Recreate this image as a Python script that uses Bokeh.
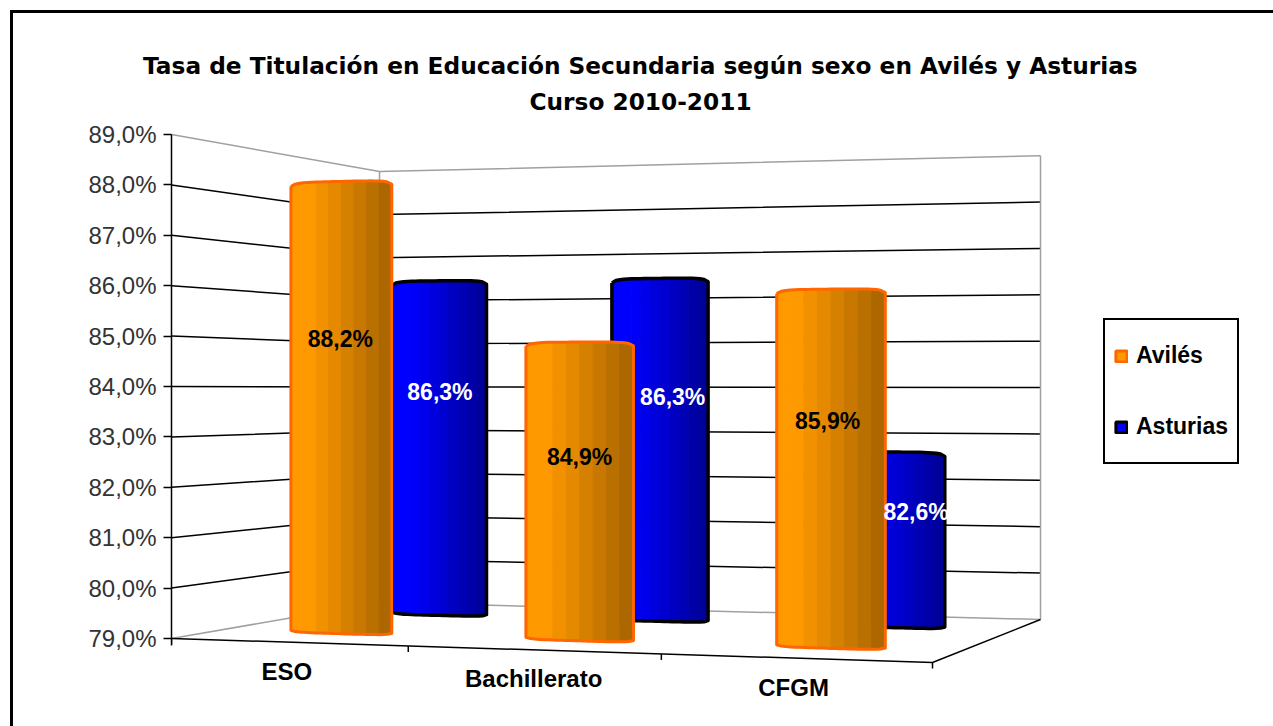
from bokeh.plotting import figure
from bokeh.embed import file_html
from bokeh.resources import INLINE
from bokeh.models import Range1d, LinearAxis, FixedTicker, Legend, LegendItem, Title
from bokeh.core.properties import value

# ---- data
categories = ["ESO", "Bachillerato", "CFGM"]
series_names = ["Avilés", "Asturias"]
aviles = [88.2, 84.9, 85.9]
asturias = [86.3, 86.3, 82.6]
aviles_labels = ["88,2%", "84,9%", "85,9%"]
asturias_labels = ["86,3%", "86,3%", "82,6%"]
y_ticks = [79, 80, 81, 82, 83, 84, 85, 86, 87, 88, 89]
y_tick_labels = ["79,0%", "80,0%", "81,0%", "82,0%", "83,0%", "84,0%", "85,0%", "86,0%", "87,0%", "88,0%", "89,0%"]
title_lines = ["Tasa de Titulación en Educación Secundaria según sexo en Avilés y Asturias", "Curso 2010-2011"]

# ---- perspective projection of the 3-D box (t: along categories 0..1, d: depth 0..1)
X00, Y00, X10, Y10, X11, Y11, X01, Y01 = 171, 638, 932, 662, 1040, 619, 379, 602
dx1, dx2, sx = X10 - X11, X01 - X11, X00 - X10 + X11 - X01
dy1, dy2, sy = Y10 - Y11, Y01 - Y11, Y00 - Y10 + Y11 - Y01
det = dx1 * dy2 - dx2 * dy1
G = (sx * dy2 - dx2 * sy) / det
H = (dx1 * sy - sx * dy1) / det
K0, KT, KD = 50.4, -0.65, -0.1
VMIN, VMAX = 79, 89


def proj(t, d, v=VMIN):
    w = 1 + G * t + H * d
    x = ((X10 - X00 + G * X10) * t + (X01 - X00 + H * X01) * d + X00) / w
    y = ((Y10 - Y00 + G * Y10) * t + (Y01 - Y00 + H * Y01) * d + Y00) / w
    return x, y - (v - VMIN) * (K0 + KT * t + KD * d) / w


def poly(pts, **kw):
    p.line([q[0] for q in pts], [q[1] for q in pts], **kw)


CX, CY = 13, 13          # where the canvas starts in the picture
FRAME_TOP = 118
W, H_PAGE = 1263, 716
p = figure(width=W, height=H_PAGE, output_backend="svg", toolbar_location=None, title=None,
           x_range=Range1d(171, CX + W), y_range=Range1d(CY + H_PAGE, FRAME_TOP),
           min_border_left=171 - CX, min_border_right=0, min_border_top=FRAME_TOP - CY, min_border_bottom=0,
           x_axis_type=None, y_axis_type=None, outline_line_color=None,
           background_fill_color="white", border_fill_color="white",
           margin=(10, 0, 0, 10),
           styles={"border-left": "3px solid black", "border-top": "3px solid black"})
p.grid.visible = False

# real percentage axis, aligned with the left edge of the box
p.extra_y_ranges["pct"] = Range1d(VMIN - (CY + H_PAGE - Y00) / K0, VMIN + (Y00 - FRAME_TOP) / K0)
axis = LinearAxis(y_range_name="pct", ticker=FixedTicker(ticks=y_ticks),
                  major_label_overrides={t: s for t, s in zip(y_ticks, y_tick_labels)},
                  bounds=(78.87, VMAX), major_tick_out=8, major_tick_in=0, minor_tick_out=0, minor_tick_in=0,
                  major_tick_line_color="black", major_tick_line_width=1.5,
                  axis_line_color="black", axis_line_width=1.5, major_label_standoff=7,
                  major_label_text_font="Liberation Sans", major_label_text_font_size="24px",
                  major_label_text_color="#333333")
p.add_layout(axis, "left")

# walls and gridlines
GRAY, GW, LW = "#a0a0a0", 1.5, 1.5
for v in y_ticks:
    col = GRAY if v in (VMIN, VMAX) else "black"
    poly([proj(0, 0, v), proj(0, 1, v), proj(1, 1, v)], line_color=col, line_width=GW)
poly([proj(0, 1, VMIN), proj(0, 1, VMAX)], line_color=GRAY, line_width=GW)
poly([proj(1, 1, VMIN), proj(1, 1, VMAX)], line_color=GRAY, line_width=GW)

# floor edges and category ticks
poly([proj(0, 0), proj(1, 0), proj(1, 1)], line_color="black", line_width=LW)
for i in range(len(categories) + 1):
    x0, y0 = proj(i / len(categories), 0)
    p.segment([x0], [y0], [x0], [y0 + 6], line_color="black", line_width=1.5)


def ell(s):
    return (1 - abs(2 * s - 1) ** 5) ** 0.5


def shade(rgb, s, floor):
    f = 1.0 if s < 0.2 else 1 - (1 - floor) * (s - 0.2) / 0.8
    return "#%02x%02x%02x" % tuple(int(c * f) for c in rgb)


NE = 24


def cylinder(t, half, d, val, rgb, floor, edge, bands, lift, lw):
    xl, yb_l = proj(t - half, d)
    xr, yb_r = proj(t + half, d)
    _, yt_l = proj(t - half, d, val)
    _, yt_r = proj(t + half, d, val)
    top = lambda s: yt_l + (yt_r - yt_l) * s + lift + 4 * (1 - ell(s))
    bot = lambda s: yb_l + (yb_r - yb_l) * s + 2 * ell(s)
    xa = lambda s: xl + (xr - xl) * s
    for b in range(bands):
        s0, s1 = b / bands, (b + 1) / bands
        ss = [s0 + (s1 - s0) * i / 6 for i in range(7)]
        xs = [xa(s) for s in ss] + [xa(s) for s in reversed(ss)]
        ys = [top(s) for s in ss] + [bot(s) for s in reversed(ss)]
        c = shade(rgb, (s0 + s1) / 2, floor)
        p.patch(xs, ys, fill_color=c, line_color=c, line_width=1)
    ss = [i / NE for i in range(NE + 1)]
    xs = [xa(s) for s in ss] + [xa(s) for s in reversed(ss)] + [xl]
    ys = [top(s) for s in ss] + [bot(s) for s in reversed(ss)] + [top(0)]
    p.line(xs, ys, line_color=edge, line_width=lw, line_join="round")


n = len(categories)
D_FRONT, D_BACK = 0.25, 0.75
BLUE, ORANGE = (0, 0, 255), (255, 153, 0)
half_front = [0.0735, 0.0735, 0.0695]
half_back = [0.0735, 0.0705, 0.0695]
shift_front = [-0.002, 0.001, 0.0]
for i in range(n):
    t = (i + 0.5) / n
    cylinder(t, half_back[i], D_BACK, asturias[i], BLUE, 0.58, "black", 10, -2, 3.5)
    cylinder(t + shift_front[i], half_front[i], D_FRONT, aviles[i], ORANGE, 0.65, "#ff6600", 8, 0.5, 3)

# texts
label_at_front = [0.65, 0.613, 0.63]
label_at_back = [0.671, 0.656, 0.662]
front_dx = [-2, 1, -3]
back_dx = [1, 13, 22]
cat_dx = [0, 2, 0]
TXT = dict(text_align="center", text_baseline="middle")
B = value("Liberation Sans")
for i in range(n):
    t = (i + 0.5) / n
    x, y = proj(t, D_FRONT, VMIN + label_at_front[i] * (aviles[i] - VMIN))
    p.text([x + front_dx[i]], [y], text=[aviles_labels[i]], text_font=B, text_font_style="bold", text_font_size="23px", text_color="black", **TXT)
    x, y = proj(t, D_BACK, VMIN + label_at_back[i] * (asturias[i] - VMIN))
    p.text([x + back_dx[i]], [y], text=[asturias_labels[i]], text_font=B, text_font_style="bold", text_font_size="23px", text_color="white", **TXT)
    x, y = proj(t, 0)
    p.text([x - 1 + cat_dx[i]], [y + 29], text=[categories[i]], text_font=B, text_font_style="bold", text_font_size="24px", text_color="black", **TXT)

# the two title lines, in the panel above the frame
for line, stand, off in zip(reversed(title_lines), [6.5, 8], [358, -28.5]):
    p.add_layout(Title(text=line, align="left", offset=off, standoff=stand,
                       text_font="DejaVu Sans", text_font_style="bold", text_font_size="23.25px",
                       text_color="black"), "above")

# legend
nan = float("nan")
r1 = p.quad(left=[nan], right=[nan], top=[nan], bottom=[nan], fill_color="#ff9900", line_color="#ff6600", line_width=3)
r2 = p.quad(left=[nan], right=[nan], top=[nan], bottom=[nan], fill_color="#0000ff", line_color="black", line_width=3)
legend = Legend(items=[LegendItem(label=series_names[0], renderers=[r1]), LegendItem(label=series_names[1], renderers=[r2])],
                location=(1103 - 171, CY + H_PAGE - 464), orientation="vertical", padding=9, spacing=18, margin=0,
                glyph_width=14, glyph_height=14, label_height=53, label_standoff=8,
                label_text_font="Liberation Sans", label_text_font_style="bold", label_text_font_size="23px",
                label_text_color="black", border_line_color="black", border_line_alpha=1, border_line_width=2,
                background_fill_color="white", background_fill_alpha=1)
p.add_layout(legend)

open("out.html", "w").write(file_html(p, INLINE))
